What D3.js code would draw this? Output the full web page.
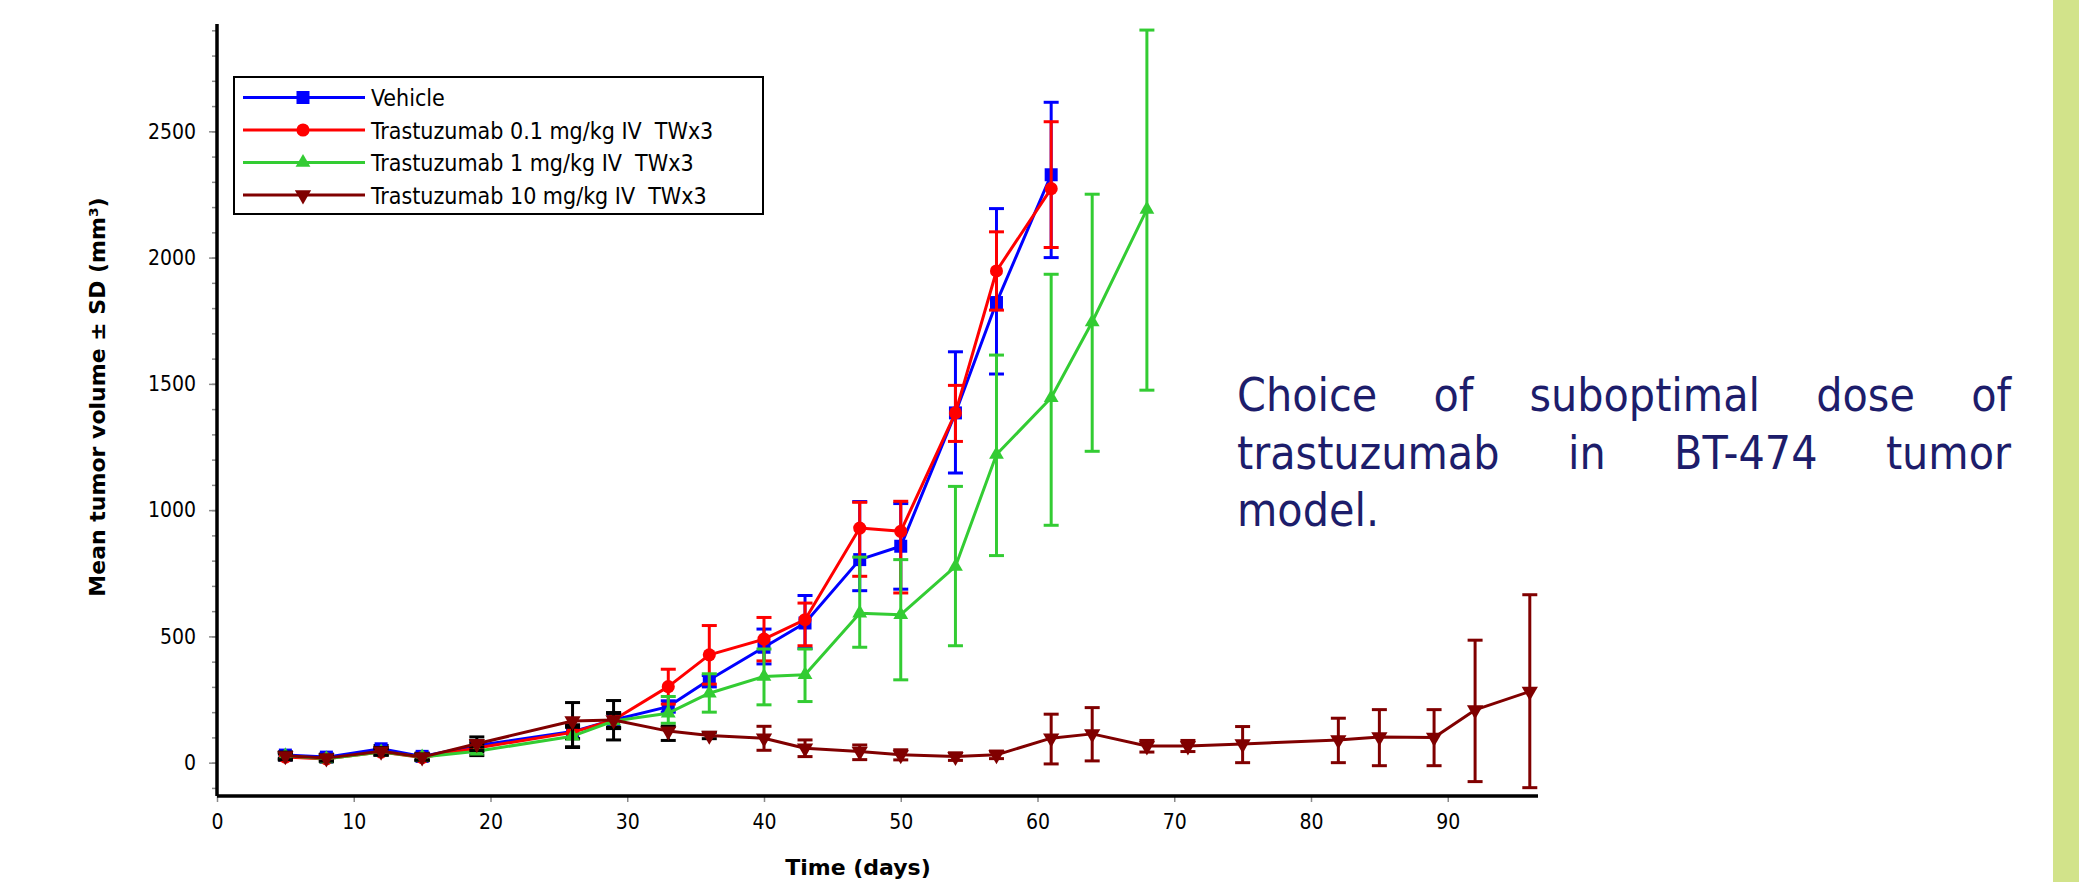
<!DOCTYPE html>
<html>
<head>
<meta charset="utf-8">
<script src="https://cdn.jsdelivr.net/npm/d3@7"></script>
<style>
  body { margin: 0; background: #fff; }
  svg { display: block; }
  .cond { font-family: "DejaVu Sans Condensed", "DejaVu Sans", sans-serif; font-stretch: condensed; }
  .bold { font-family: "DejaVu Sans", sans-serif; font-weight: bold; }
</style>
</head>
<body>
<div id="chart"></div>
<script>
// ---- data (days, mean volume, mean-SD, mean+SD) ----
const seriesNames = ["Vehicle", "Trastuzumab 0.1 mg/kg IV  TWx3", "Trastuzumab 1 mg/kg IV  TWx3", "Trastuzumab 10 mg/kg IV  TWx3"];

const vehicleDays = [5, 8, 12, 15, 19, 26, 29, 33, 36, 40, 43, 47, 50, 54, 57, 61];
const vehicleMean = [30, 22, 55, 25, 68, 123, 169, 222, 328, 457, 553, 804, 857, 1385, 1822, 2328];
const vehicleLow  = [18, 10, 42, 12, 52, 95, 140, 200, 300, 391, 452, 681, 687, 1147, 1539, 2000];
const vehicleHigh = [42, 34, 68, 38, 84, 150, 198, 245, 345, 529, 662, 1034, 1026, 1627, 2194, 2615];

const t01Days = [5, 8, 12, 15, 19, 26, 29, 33, 36, 40, 43, 47, 50, 54, 57, 61];
const t01Mean = [22, 15, 42, 20, 58, 120, 169, 301, 427, 489, 566, 929, 916, 1385, 1947, 2273];
const t01Low  = [10, 4, 30, 8, 42, 95, 140, 232, 311, 403, 463, 738, 672, 1272, 1792, 2040];
const t01High = [34, 27, 55, 32, 74, 145, 198, 370, 543, 575, 632, 1031, 1035, 1494, 2102, 2538];

const t1Days = [5, 8, 12, 15, 19, 26, 29, 33, 36, 40, 43, 47, 50, 54, 57, 61, 64, 68];
const t1Mean = [27, 15, 42, 22, 45, 105, 165, 196, 275, 341, 348, 592, 586, 777, 1220, 1445, 1745, 2191];
const t1Low  = [15, 4, 30, 10, 28, 60, 135, 156, 200, 229, 242, 457, 328, 463, 820, 940, 1233, 1475];
const t1High = [40, 27, 55, 34, 62, 140, 195, 262, 352, 450, 450, 814, 804, 1094, 1614, 1934, 2251, 2901];

const t10Days = [5, 8, 12, 15, 19, 26, 29, 33, 36, 40, 43, 47, 50, 54, 57, 61, 64, 68, 71, 75, 82, 85, 89, 92, 96];
const t10Mean = [27, 18, 45, 22, 75, 165, 169, 125, 108, 97, 57, 44, 31, 24, 31, 97, 114, 66, 66, 74, 90, 102, 100, 209, 282];
const t10Low  = [12, 6, 30, 10, 48, 63, 90, 88, 95, 49, 24, 12, 11, 9, 16, -5, 7, 42, 44, 0, 0, -12, -12, -75, -99];
const t10High = [42, 30, 60, 34, 102, 238, 246, 144, 120, 144, 90, 70, 51, 39, 46, 192, 218, 88, 88, 143, 176, 210, 210, 485, 665];

const xTicks = [0, 10, 20, 30, 40, 50, 60, 70, 80, 90];
const yTicks = [0, 500, 1000, 1500, 2000, 2500];
const yMinorTicks = d3.range(-100, 2901, 100);

const noteLines = ["Choice of suboptimal dose of", "trastuzumab in BT-474 tumor", "model."];

// ---- styling ----
const colors = ["#0000ff", "#ff0000", "#33cc33", "#800000"];
const symbols = [d3.symbolSquare, d3.symbolCircle, d3.symbolTriangle, d3.symbolTriangle];
const symbolSizes = [169, 135, 95, 115];
const symbolRotate = [0, 0, 0, 180];
// early error bars are drawn black in the original
const blackBarsUntil = [29, 29, 29, 36];

const series = [
  [vehicleDays, vehicleMean, vehicleLow, vehicleHigh],
  [t01Days, t01Mean, t01Low, t01High],
  [t1Days, t1Mean, t1Low, t1High],
  [t10Days, t10Mean, t10Low, t10High]
].map(([days, mean, lo, hi], i) => ({
  name: seriesNames[i],
  color: colors[i],
  idx: i,
  points: days.map((d, j) => ({ day: d, mean: mean[j], lo: lo[j], hi: hi[j] }))
}));

const width = 2088, height = 882;

const svg = d3.select("#chart").append("svg")
  .attr("width", width)
  .attr("height", height);

svg.append("rect").attr("width", width).attr("height", height).attr("fill", "#fff");

// side stripe
svg.append("rect")
  .attr("x", 2053).attr("y", 0)
  .attr("width", 26).attr("height", height)
  .attr("fill", "#d2e38a");

const x = d3.scaleLinear().domain([0, 96.6]).range([217, 1538]);
const y = d3.scaleLinear().domain([-132, 2925]).range([796, 24]);

// minor y ticks
svg.append("g")
  .attr("transform", "translate(217,0)")
  .call(d3.axisLeft(y).tickValues(yMinorTicks).tickSize(5).tickFormat(""))
  .call(g => g.select(".domain").remove())
  .call(g => g.selectAll(".tick line").attr("stroke", "#8a8a8a").attr("stroke-width", 1.5));

// major y ticks
svg.append("g")
  .attr("class", "cond")
  .attr("transform", "translate(217,0)")
  .call(d3.axisLeft(y).tickValues(yTicks).tickSize(8).tickPadding(13).tickFormat(d3.format("d")))
  .call(g => g.select(".domain").remove())
  .call(g => g.selectAll(".tick line").attr("stroke", "#8a8a8a").attr("stroke-width", 1.5))
  .call(g => g.selectAll(".tick text").attr("fill", "#000").style("font-size", "21px"));

// x ticks
svg.append("g")
  .attr("class", "cond")
  .attr("transform", "translate(0,796)")
  .call(d3.axisBottom(x).tickValues(xTicks).tickSize(6).tickPadding(12).tickFormat(d3.format("d")))
  .call(g => g.select(".domain").remove())
  .call(g => g.selectAll(".tick line").attr("stroke", "#8a8a8a").attr("stroke-width", 1.5))
  .call(g => g.selectAll(".tick text").attr("fill", "#000").style("font-size", "21px"));

// axis lines
svg.append("line")
  .attr("x1", x(0)).attr("x2", x(0))
  .attr("y1", y.range()[1]).attr("y2", y.range()[0])
  .attr("stroke", "#000").attr("stroke-width", 3.5);
svg.append("line")
  .attr("x1", x(0)).attr("x2", x.range()[1])
  .attr("y1", y.range()[0]).attr("y2", y.range()[0])
  .attr("stroke", "#000").attr("stroke-width", 3.5);

// axis titles
svg.append("text")
  .attr("class", "bold")
  .attr("transform", "translate(105,397) rotate(-90)")
  .attr("text-anchor", "middle")
  .style("font-size", "22px")
  .text("Mean tumor volume \u00b1 SD (mm\u00b3)");

svg.append("text")
  .attr("class", "bold")
  .attr("x", 858).attr("y", 875)
  .attr("text-anchor", "middle")
  .style("font-size", "22px")
  .text("Time (days)");

// series
const line = d3.line().x(d => x(d.day)).y(d => y(d.mean));
const capHalf = 7.5;

series.forEach(s => {
  const g = svg.append("g");
  const barColor = d => d.day <= blackBarsUntil[s.idx] ? "#000" : s.color;

  const bars = g.selectAll(".err").data(s.points).enter().append("g");
  bars.append("line")
    .attr("x1", d => x(d.day)).attr("x2", d => x(d.day))
    .attr("y1", d => y(d.lo)).attr("y2", d => y(d.hi))
    .attr("stroke", barColor).attr("stroke-width", 3);
  bars.append("line")
    .attr("x1", d => x(d.day) - capHalf).attr("x2", d => x(d.day) + capHalf)
    .attr("y1", d => y(d.hi)).attr("y2", d => y(d.hi))
    .attr("stroke", barColor).attr("stroke-width", 3);
  bars.append("line")
    .attr("x1", d => x(d.day) - capHalf).attr("x2", d => x(d.day) + capHalf)
    .attr("y1", d => y(d.lo)).attr("y2", d => y(d.lo))
    .attr("stroke", barColor).attr("stroke-width", 3);

  g.append("path")
    .datum(s.points)
    .attr("d", line)
    .attr("fill", "none")
    .attr("stroke", s.color)
    .attr("stroke-width", 3)
    .attr("stroke-linejoin", "round");

  g.selectAll(".mark").data(s.points).enter().append("path")
    .attr("d", d3.symbol().type(symbols[s.idx]).size(symbolSizes[s.idx]))
    .attr("transform", d => `translate(${x(d.day)},${y(d.mean)}) rotate(${symbolRotate[s.idx]})`)
    .attr("fill", s.color);
});

// legend
const legend = svg.append("g").attr("class", "cond");
legend.append("rect")
  .attr("x", 234).attr("y", 77)
  .attr("width", 529).attr("height", 137)
  .attr("fill", "#fff")
  .attr("stroke", "#000").attr("stroke-width", 2);

series.forEach((s, i) => {
  const ry = 97.5 + i * 32.5;
  legend.append("line")
    .attr("x1", 243).attr("x2", 365)
    .attr("y1", ry).attr("y2", ry)
    .attr("stroke", s.color).attr("stroke-width", 3);
  legend.append("path")
    .attr("d", d3.symbol().type(symbols[i]).size(symbolSizes[i]))
    .attr("transform", `translate(303,${ry}) rotate(${symbolRotate[i]})`)
    .attr("fill", s.color);
  legend.append("text")
    .attr("x", 371).attr("y", ry + 8.5)
    .style("font-size", "23px")
    .style("white-space", "pre")
    .attr("fill", "#000")
    .text(s.name);
});

// justified note on the right
const note = svg.append("g").attr("class", "cond")
  .style("font-size", "46px")
  .attr("fill", "#1d1d6b");
const noteLeft = 1237, noteRight = 2011, noteTop = 411, noteLead = 57.5;

noteLines.forEach((ln, i) => {
  const words = ln.split(" ");
  const els = words.map(w => note.append("text").attr("y", noteTop + i * noteLead).text(w));
  const widths = els.map(e => e.node().getComputedTextLength());
  const last = i === noteLines.length - 1;
  const gap = (!last && words.length > 1)
    ? (noteRight - noteLeft - d3.sum(widths)) / (words.length - 1)
    : 14;
  let cx = noteLeft;
  els.forEach((e, j) => { e.attr("x", cx); cx += widths[j] + gap; });
});
</script>
</body>
</html>
